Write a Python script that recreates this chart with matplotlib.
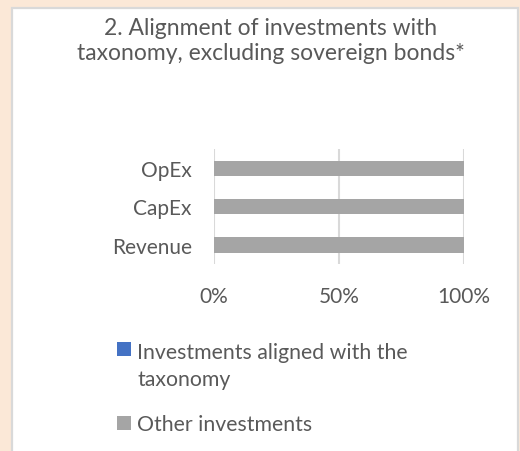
import matplotlib
matplotlib.use("Agg")
import matplotlib.pyplot as plt
from matplotlib.patches import Rectangle

# データ
categories = ["Revenue", "CapEx", "OpEx"]
aligned = [0, 0, 0]
other = [100, 100, 100]
x_ticks = [0, 50, 100]
x_tick_labels = ["0%", "50%", "100%"]
title = "2. Alignment of investments with\ntaxonomy, excluding sovereign bonds*"
legend_labels = ["Investments aligned with the\ntaxonomy", "Other investments"]

BLUE = "#4472C4"
GRAY = "#A5A5A5"
TEXT = "#595959"
GRID = "#D9D9D9"

W, H = 520, 452
plt.rcParams["font.family"] = ["Lato", "DejaVu Sans"]

fig = plt.figure(figsize=(W / 100, H / 100), dpi=100)
fig.patch.set_facecolor("#FBE8D7")


def px(x, y):
    # ピクセル座標 -> figure座標
    return x / W, 1 - y / H


# 白いパネル
x0, y0 = px(12, 9)
fig.patches.append(Rectangle((x0, -0.05), 506 / W, y0 + 0.05, transform=fig.transFigure,
                             facecolor="white", edgecolor=GRID, linewidth=1.6, zorder=-10))

# タイトル (va=baseline は最終行の基準線)
tx, ty = px(271, 60)
fig.text(tx, ty, title, ha="center", va="baseline", fontsize=16.5, color=TEXT,
         linespacing=1.22)

# グラフ
left, top = px(214, 150)
right, bottom = px(464, 265)
ax = fig.add_axes([left, bottom, right - left, top - bottom])
ax.set_facecolor("none")
ax.barh(categories, aligned, height=0.4, color=BLUE, label=legend_labels[0])
ax.barh(categories, other, left=aligned, height=0.4, color=GRAY, label=legend_labels[1])
ax.set_xlim(0, 100)
ax.set_ylim(-0.5, len(categories) - 0.5)
ax.set_xticks(x_ticks)
ax.set_xticklabels(x_tick_labels)
ax.xaxis.grid(True, color=GRID, linewidth=1.5)
ax.set_axisbelow(True)
for s in ax.spines.values():
    s.set_visible(False)
ax.tick_params(axis="both", length=0, labelsize=15, labelcolor=TEXT)
ax.tick_params(axis="x", pad=16)
ax.tick_params(axis="y", pad=16)

# 凡例 (手動)
for (sy, ly), lab, col in zip([(343, 386), (417, 431)], legend_labels, [BLUE, GRAY]):
    sx, syy = px(117, sy + 14)
    fig.patches.append(Rectangle((sx, syy), 14 / W, 14 / H, transform=fig.transFigure,
                                 facecolor=col, edgecolor="none"))
    lx, lyy = px(137, ly)
    fig.text(lx, lyy, lab, ha="left", va="baseline", fontsize=15.3, color=TEXT,
             linespacing=1.45, transform=fig.transFigure)

fig.savefig("out.png", dpi=100, facecolor=fig.get_facecolor())
